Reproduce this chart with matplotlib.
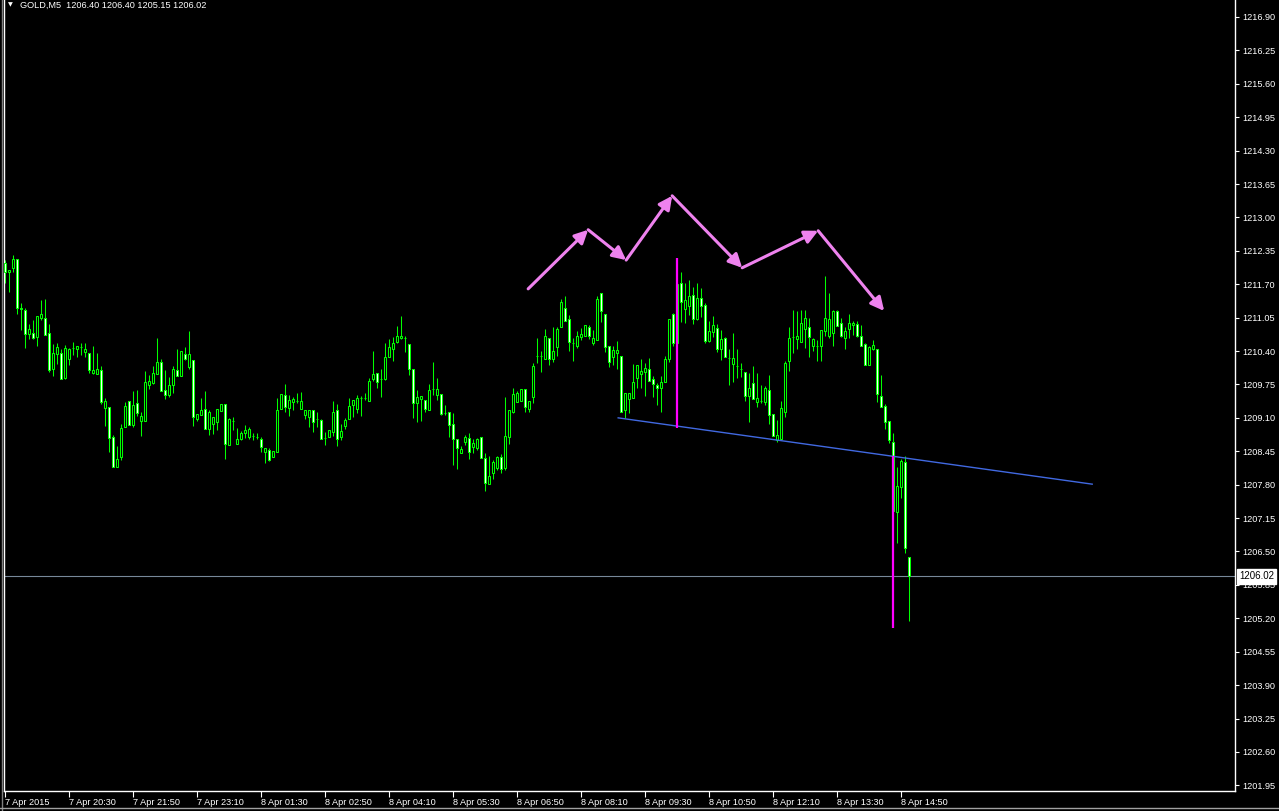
import matplotlib
matplotlib.use('Agg')
import matplotlib.pyplot as plt
from matplotlib.transforms import blended_transform_factory

# ---------------- data (GOLD, M5) ----------------
open_ = [
1212.11, 1211.93, 1212.01, 1212.20, 1211.23, 1211.19, 1210.74, 1210.76, 1210.68, 1211.05,
1211.04, 1210.76, 1210.06, 1210.34, 1210.37, 1209.87, 1210.24, 1210.45, 1210.43, 1210.47,
1210.39, 1210.37, 1209.97, 1209.95, 1210.04, 1209.29, 1209.32, 1208.72, 1208.15, 1208.33,
1208.93, 1209.42, 1208.96, 1209.38, 1209.03, 1209.03, 1209.73, 1209.78, 1209.95, 1210.18,
1209.64, 1209.55, 1209.73, 1210.04, 1209.92, 1210.34, 1210.08, 1210.23, 1209.08, 1209.16,
1209.27, 1208.89, 1208.99, 1209.01, 1209.24, 1209.37, 1208.57, 1209.03, 1208.60, 1208.68,
1208.80, 1208.72, 1208.75, 1208.72, 1208.68, 1208.44, 1208.47, 1208.33, 1208.44, 1209.27,
1209.54, 1209.29, 1209.40, 1209.42, 1209.28, 1209.15, 1209.12, 1209.25, 1209.07, 1209.06,
1208.71, 1208.72, 1208.83, 1209.26, 1208.73, 1208.95, 1209.07, 1209.35, 1209.27, 1209.48,
1209.48, 1209.43, 1209.86, 1209.98, 1209.86, 1209.86, 1210.29, 1210.43, 1210.58, 1210.65,
1210.66, 1210.53, 1210.06, 1209.38, 1209.46, 1209.45, 1209.26, 1209.67, 1209.54, 1209.56,
1209.20, 1209.21, 1208.99, 1208.68, 1208.42, 1208.63, 1208.70, 1208.54, 1208.52, 1208.73,
1208.31, 1207.81, 1208.02, 1208.13, 1208.34, 1208.13, 1208.73, 1209.22, 1209.41, 1209.43,
1209.67, 1209.28, 1209.50, 1210.30, 1210.30, 1210.24, 1210.66, 1210.24, 1210.48, 1210.87,
1211.23, 1211.02, 1210.56, 1210.50, 1210.68, 1210.69, 1210.86, 1210.56, 1210.61, 1211.52,
1211.13, 1210.50, 1210.29, 1210.36, 1210.31, 1209.26, 1209.46, 1209.48, 1209.87, 1209.95,
1209.99, 1210.05, 1209.85, 1209.74, 1209.68, 1209.79, 1210.24, 1211.12, 1210.55, 1211.72,
1211.22, 1211.27, 1211.49, 1211.02, 1211.43, 1211.30, 1210.59, 1210.78, 1210.85, 1210.44,
1210.65, 1210.27, 1210.15, 1210.10, 1210.05, 1209.99, 1209.52, 1209.77, 1209.40, 1209.42,
1209.40, 1209.65, 1209.17, 1208.67, 1208.69, 1209.22, 1210.21, 1210.68, 1210.63, 1210.57,
1210.83, 1210.87, 1210.50, 1210.50, 1210.49, 1210.79, 1210.70, 1210.75, 1211.17, 1210.94,
1210.66, 1210.83, 1210.90, 1210.93, 1210.70, 1210.53, 1210.12, 1210.44, 1210.44, 1209.53,
1209.33, 1209.03, 1208.64, 1207.26, 1207.76, 1208.25, 1206.40]

high_ = [
1212.17, 1211.98, 1212.27, 1212.20, 1211.33, 1211.23, 1210.93, 1211.00, 1211.09, 1211.39,
1211.41, 1210.93, 1210.54, 1210.55, 1210.44, 1210.51, 1210.45, 1210.57, 1210.49, 1210.55,
1210.55, 1210.37, 1210.50, 1210.37, 1210.11, 1209.48, 1209.32, 1208.77, 1208.55, 1208.98,
1209.40, 1209.42, 1209.62, 1209.64, 1209.21, 1210.01, 1209.93, 1210.11, 1210.65, 1210.25,
1210.03, 1209.90, 1210.11, 1210.44, 1210.40, 1210.47, 1210.79, 1210.23, 1209.17, 1209.49,
1209.62, 1209.25, 1209.12, 1209.27, 1209.37, 1209.37, 1209.10, 1209.12, 1208.90, 1208.84,
1208.96, 1208.92, 1208.81, 1208.80, 1208.73, 1208.51, 1208.51, 1208.46, 1209.49, 1209.56,
1209.76, 1209.55, 1209.51, 1209.58, 1209.60, 1209.25, 1209.26, 1209.25, 1209.21, 1209.07,
1208.82, 1208.87, 1209.43, 1209.37, 1208.98, 1209.10, 1209.49, 1209.44, 1209.54, 1209.53,
1209.59, 1209.87, 1210.40, 1209.98, 1210.05, 1210.55, 1210.63, 1210.68, 1210.89, 1211.08,
1210.69, 1210.53, 1210.06, 1209.64, 1209.52, 1209.45, 1209.75, 1210.18, 1209.87, 1209.56,
1209.35, 1209.21, 1209.20, 1208.68, 1208.55, 1208.76, 1208.80, 1208.69, 1208.71, 1208.73,
1208.41, 1208.36, 1208.28, 1208.36, 1208.40, 1209.51, 1209.26, 1209.69, 1209.62, 1209.67,
1209.67, 1209.43, 1210.16, 1210.65, 1210.40, 1210.82, 1210.66, 1210.86, 1210.86, 1211.42,
1211.47, 1211.10, 1210.65, 1210.79, 1210.84, 1210.91, 1210.91, 1210.80, 1211.48, 1211.52,
1211.13, 1210.50, 1210.50, 1210.60, 1210.31, 1209.58, 1209.58, 1210.15, 1210.12, 1210.25,
1210.17, 1210.27, 1209.91, 1209.77, 1209.91, 1210.31, 1211.02, 1211.14, 1212.20, 1211.94,
1211.72, 1211.79, 1211.64, 1211.72, 1211.62, 1211.33, 1210.98, 1211.08, 1210.93, 1210.81,
1210.67, 1210.44, 1210.75, 1210.44, 1210.17, 1209.99, 1209.98, 1210.11, 1209.98, 1209.74,
1209.72, 1209.94, 1209.17, 1209.06, 1209.43, 1210.21, 1210.87, 1211.20, 1211.17, 1211.19,
1211.20, 1211.04, 1210.66, 1210.62, 1210.81, 1211.86, 1211.53, 1211.20, 1211.20, 1211.04,
1210.87, 1211.12, 1210.99, 1210.98, 1210.90, 1210.55, 1210.49, 1210.62, 1210.44, 1209.94,
1209.37, 1209.03, 1208.80, 1208.15, 1208.29, 1208.35, 1206.40]

low_ = [
1211.73, 1211.54, 1211.93, 1211.13, 1210.80, 1210.45, 1210.64, 1210.63, 1210.49, 1211.00,
1210.72, 1210.00, 1209.92, 1210.15, 1209.85, 1209.85, 1210.12, 1210.32, 1210.29, 1210.32,
1210.28, 1209.97, 1209.95, 1209.95, 1209.36, 1208.95, 1208.44, 1208.15, 1208.15, 1208.28,
1208.93, 1208.96, 1208.93, 1209.14, 1208.75, 1209.03, 1209.67, 1209.76, 1209.95, 1209.63,
1209.47, 1209.51, 1209.59, 1209.92, 1209.92, 1210.23, 1210.05, 1208.95, 1209.03, 1209.16,
1208.89, 1208.77, 1208.78, 1208.86, 1209.24, 1208.30, 1208.57, 1208.86, 1208.60, 1208.67,
1208.70, 1208.69, 1208.67, 1208.68, 1208.44, 1208.23, 1208.27, 1208.33, 1208.44, 1209.27,
1209.22, 1209.14, 1209.25, 1209.38, 1209.28, 1209.07, 1208.93, 1208.83, 1208.93, 1208.68,
1208.58, 1208.72, 1208.75, 1208.56, 1208.67, 1208.88, 1209.07, 1209.12, 1209.19, 1209.14,
1209.45, 1209.43, 1209.82, 1209.69, 1209.51, 1209.84, 1210.29, 1210.20, 1210.55, 1210.63,
1210.39, 1209.93, 1209.10, 1209.01, 1209.04, 1209.22, 1209.26, 1209.54, 1209.45, 1209.15,
1209.15, 1208.73, 1208.18, 1208.10, 1208.41, 1208.57, 1208.30, 1208.41, 1208.47, 1208.31,
1207.68, 1207.81, 1207.91, 1208.08, 1208.02, 1208.08, 1208.59, 1209.19, 1209.41, 1209.43,
1209.21, 1209.22, 1209.38, 1210.17, 1210.00, 1210.24, 1210.13, 1210.19, 1210.30, 1210.87,
1210.99, 1210.41, 1210.21, 1210.45, 1210.61, 1210.69, 1210.63, 1210.52, 1210.61, 1210.97,
1210.39, 1210.08, 1210.12, 1210.06, 1209.21, 1209.09, 1209.19, 1209.48, 1209.68, 1209.68,
1209.53, 1209.81, 1209.50, 1209.35, 1209.21, 1209.79, 1210.18, 1210.50, 1210.50, 1210.96,
1210.94, 1211.10, 1210.93, 1211.01, 1211.07, 1210.55, 1210.57, 1210.67, 1210.39, 1210.23,
1210.28, 1209.74, 1209.79, 1209.87, 1209.89, 1209.43, 1209.01, 1209.46, 1209.32, 1209.39,
1209.35, 1208.99, 1208.74, 1208.63, 1208.69, 1209.11, 1210.02, 1210.36, 1210.44, 1210.57,
1210.46, 1210.29, 1210.41, 1210.20, 1210.20, 1210.70, 1210.65, 1210.50, 1210.89, 1210.67,
1210.44, 1210.66, 1210.72, 1210.67, 1210.49, 1210.12, 1210.12, 1210.42, 1209.40, 1209.32,
1208.89, 1208.61, 1207.20, 1206.67, 1207.55, 1206.47, 1205.15]

close_ = [
1211.93, 1211.98, 1212.20, 1211.23, 1211.22, 1210.74, 1210.82, 1210.65, 1211.09, 1211.13,
1210.72, 1210.04, 1210.37, 1210.47, 1209.85, 1210.45, 1210.43, 1210.45, 1210.49, 1210.47,
1210.43, 1210.04, 1210.04, 1210.06, 1209.40, 1209.42, 1208.71, 1208.15, 1208.29, 1208.90,
1209.34, 1208.96, 1209.35, 1209.19, 1209.14, 1209.79, 1209.82, 1209.97, 1210.18, 1209.63,
1209.55, 1209.73, 1210.05, 1209.92, 1210.40, 1210.24, 1210.34, 1209.11, 1209.17, 1209.25,
1208.89, 1209.21, 1209.12, 1209.27, 1209.37, 1208.60, 1209.07, 1209.03, 1208.68, 1208.80,
1208.86, 1208.88, 1208.75, 1208.72, 1208.53, 1208.51, 1208.28, 1208.46, 1209.25, 1209.56,
1209.32, 1209.45, 1209.46, 1209.42, 1209.43, 1209.25, 1209.26, 1209.02, 1209.07, 1208.68,
1208.71, 1208.87, 1209.21, 1208.68, 1208.84, 1209.06, 1209.33, 1209.44, 1209.48, 1209.48,
1209.48, 1209.81, 1209.95, 1209.79, 1209.86, 1210.29, 1210.48, 1210.55, 1210.69, 1210.69,
1210.66, 1210.06, 1209.38, 1209.50, 1209.52, 1209.27, 1209.65, 1209.67, 1209.67, 1209.17,
1209.20, 1208.97, 1208.68, 1208.51, 1208.49, 1208.72, 1208.44, 1208.62, 1208.69, 1208.31,
1207.84, 1207.96, 1208.25, 1208.34, 1208.10, 1208.75, 1209.25, 1209.56, 1209.58, 1209.67,
1209.32, 1209.43, 1210.11, 1210.30, 1210.30, 1210.69, 1210.24, 1210.40, 1210.83, 1211.36,
1210.99, 1210.58, 1210.56, 1210.69, 1210.74, 1210.91, 1210.69, 1210.66, 1211.41, 1211.17,
1210.48, 1210.19, 1210.42, 1210.42, 1209.21, 1209.58, 1209.58, 1209.79, 1210.12, 1210.02,
1210.07, 1209.81, 1209.75, 1209.68, 1209.80, 1210.25, 1211.02, 1210.55, 1211.70, 1211.35,
1211.40, 1211.47, 1211.02, 1211.43, 1211.27, 1210.59, 1210.79, 1210.90, 1210.44, 1210.63,
1210.29, 1210.27, 1210.26, 1210.10, 1210.05, 1209.52, 1209.68, 1209.46, 1209.48, 1209.42,
1209.69, 1209.15, 1208.74, 1208.77, 1209.29, 1210.17, 1210.65, 1210.68, 1210.70, 1210.94,
1211.04, 1210.67, 1210.63, 1210.50, 1210.81, 1211.05, 1211.02, 1211.18, 1210.89, 1210.70,
1210.79, 1210.94, 1210.94, 1210.70, 1210.49, 1210.12, 1210.48, 1210.51, 1209.56, 1209.32,
1209.02, 1208.67, 1207.28, 1207.78, 1208.26, 1206.56, 1206.02]

time_labels = ["7 Apr 2015", "7 Apr 20:30", "7 Apr 21:50", "7 Apr 23:10", "8 Apr 01:30",
               "8 Apr 02:50", "8 Apr 04:10", "8 Apr 05:30", "8 Apr 06:50", "8 Apr 08:10",
               "8 Apr 09:30", "8 Apr 10:50", "8 Apr 12:10", "8 Apr 13:30", "8 Apr 14:50"]
label_step = 16  # bars between time labels

price_ticks = [1201.95, 1202.60, 1203.25, 1203.90, 1204.55, 1205.20, 1205.85, 1206.50,
               1207.15, 1207.80, 1208.45, 1209.10, 1209.75, 1210.40, 1211.05, 1211.70,
               1212.35, 1213.00, 1213.65, 1214.30, 1214.95, 1215.60, 1216.25, 1216.90]
y_range = (1201.84, 1217.23)
x_range = (-0.33, 307.4)

bid_price = 1206.02
title_text = "GOLD,M5  1206.40 1206.40 1205.15 1206.02"

# user objects (bar index, price)
neckline_x = [153.2, 271.7]
neckline_y = [1209.10, 1207.81]
vline1 = (168.0, 1212.21, 1208.90)
vline2 = (221.8, 1208.36, 1205.01)
arrow_x = [130.7, 145.7, 155.2, 166.7, 184.2, 203.2, 219.7]
arrow_y = [1211.61, 1212.76, 1212.17, 1213.42, 1212.02, 1212.74, 1211.18]

# ---------------- drawing ----------------
FONT = ['Liberation Sans', 'DejaVu Sans']
plt.rcParams['font.family'] = FONT

W, H = 1279, 811
fig = plt.figure(figsize=(W / 100, H / 100), dpi=100, facecolor='black')
ax = fig.add_axes([4 / W, 20 / H, (1235 - 4) / W, 791 / H], facecolor='black')

n = len(open_)
xs = list(range(n))
lime = '#00ff00'

ax.vlines(xs, low_, high_, colors=lime, linewidth=0.75, zorder=2)
bull = [i for i in xs if close_[i] >= open_[i]]
bear = [i for i in xs if close_[i] < open_[i]]
ax.bar(bull, [close_[i] - open_[i] for i in bull],
       bottom=[open_[i] for i in bull], width=0.5, facecolor='black',
       edgecolor=lime, linewidth=0.75, zorder=3)
ax.bar(bear, [open_[i] - close_[i] for i in bear],
       bottom=[close_[i] for i in bear], width=0.5, facecolor='#ffffff',
       edgecolor=lime, linewidth=0.75, zorder=3)

# bid line
ax.axhline(bid_price, color='#778899', linewidth=0.8, zorder=1)

# neckline
ax.plot(neckline_x, neckline_y, color='#4169e1', linewidth=1.0, zorder=4)

# magenta measuring lines
for vx, vt, vb in (vline1, vline2):
    ax.plot([vx, vx], [vb, vt], color='#ff00ff', linewidth=1.6, zorder=5,
            solid_capstyle='butt')

# arrows
for i in range(len(arrow_x) - 1):
    ax.annotate('', xy=(arrow_x[i + 1], arrow_y[i + 1]), xytext=(arrow_x[i], arrow_y[i]),
                arrowprops=dict(arrowstyle='-|>', color='#ee82ee', lw=2.2,
                                mutation_scale=20, shrinkA=0, shrinkB=0),
                zorder=6)

ax.set_xlim(*x_range)
ax.set_ylim(*y_range)

# axes styling
ax.spines['top'].set_visible(False)
for s in ('left', 'right', 'bottom'):
    ax.spines[s].set_color('white')
    ax.spines[s].set_linewidth(1.0)

ax.yaxis.tick_right()
ax.set_yticks(price_ticks)
ax.set_yticklabels([f"{p:.2f}" for p in price_ticks])
ax.tick_params(axis='y', which='both', direction='out', length=3, width=0.8,
               colors='white', labelsize=6.6, pad=2, left=False)

tick_pos = [i * label_step for i in range(len(time_labels))]
ax.set_xticks(tick_pos)
ax.set_xticklabels(time_labels)
ax.tick_params(axis='x', direction='out', length=4, width=0.8, colors='white',
               labelsize=6.6, pad=1)
for lab in ax.get_xticklabels():
    lab.set_horizontalalignment('left')

# current price label
tr = blended_transform_factory(ax.transAxes, ax.transData)
ax.text(1.0 + 4 / 1231, bid_price, f"{bid_price:.2f}", transform=tr, ha='left', va='center',
        fontsize=7.0, color='black', zorder=20, clip_on=False,
        bbox=dict(boxstyle='square,pad=0.25', facecolor='white', edgecolor='white'))

# title
fig.text(8 / W, 1 - 5 / H, "\u25BC", color='white', fontsize=4.5, ha='left', va='center',
         family=['DejaVu Sans'])
fig.text(20 / W, 1 - 5 / H, title_text, color='white', fontsize=6.6, ha='left', va='center')

# window borders
fig.add_artist(plt.Line2D([1.5 / W, 1.5 / W], [0, 1], color='#808080', linewidth=1.0))
fig.add_artist(plt.Line2D([0, 1], [1 - 808 / H, 1 - 808 / H], color='#a0a0a0', linewidth=1.0))

fig.savefig('out.png', dpi=100, facecolor='black')
